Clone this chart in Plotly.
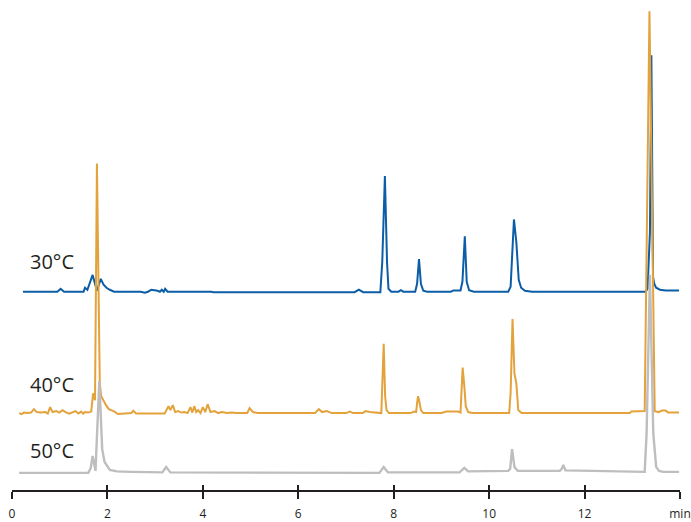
import plotly.graph_objects as go

# ---------------- data ----------------
# retention time (min) and detector signal (arbitrary units) for each run
t30 = [0.23, 0.95, 1.02, 1.09, 1.50, 1.53, 1.58, 1.69, 1.78, 1.86, 1.92, 1.98, 2.05, 2.14,
       2.70, 2.78, 2.85, 2.92, 3.05, 3.10, 3.14, 3.18, 3.21, 3.26, 4.18, 4.22, 7.18, 7.27,
       7.36, 7.72, 7.76, 7.815, 7.86, 7.89, 7.95, 8.10, 8.15, 8.20, 8.45, 8.49, 8.53, 8.57,
       8.62, 8.70, 9.20, 9.25, 9.40, 9.44, 9.49, 9.53, 9.58, 9.68, 10.40, 10.45, 10.52,
       10.57, 10.62, 10.67, 10.75, 10.90, 13.28, 13.32, 13.37, 13.40, 13.435, 13.46, 13.50,
       13.58, 13.70, 13.98]
s30 = [0, 0, 3, 0, 0, 4, 2, 17, 1, 13, 7, 4, 2, 0,
       0, -1, 0, 2, 1, 0, 2, 0, 3, 0, 0, -0.5, -0.5, 2,
       -0.5, -0.5, 30, 117, 30, 3, 0, 0, 1.5, 0, 0, 8, 33, 8,
       1, 0, 0, 1.3, 1.3, 10, 56, 10, 1.5, 0, 0, 5, 73,
       50, 12, 4, 1, 0, 0, 3, 60, 239, 15, 8, 4,
       2, 1.3, 1.3]

t40 = [0.15, 0.20, 0.25, 0.32, 0.40, 0.46, 0.52, 0.60, 0.70, 0.75, 0.80, 0.85, 0.93, 0.99,
       1.06, 1.12, 1.20, 1.27, 1.33, 1.39, 1.45, 1.49, 1.53, 1.60, 1.66, 1.70, 1.74, 1.78,
       1.84, 1.87, 1.91, 1.97, 2.03, 2.08, 2.15, 2.22, 2.30, 2.50, 2.54, 2.60, 3.20, 3.28,
       3.32, 3.37, 3.42, 3.48, 3.55, 3.62, 3.68, 3.74, 3.78, 3.82, 3.86, 3.90, 3.95, 4.00,
       4.05, 4.10, 4.16, 4.25, 4.32, 4.40, 4.50, 4.60, 4.70, 4.93, 4.98, 5.05, 5.15, 6.35,
       6.43, 6.50, 6.60, 6.70, 7.00, 7.08, 7.15, 7.35, 7.41, 7.50, 7.74, 7.77, 7.79, 7.82,
       7.85, 7.90, 8.35, 8.43, 8.47, 8.49, 8.51, 8.54, 8.57, 8.62, 9.00, 9.10, 9.35, 9.40,
       9.42, 9.445, 9.48, 9.51, 9.56, 9.65, 10.42, 10.45, 10.49, 10.53, 10.57, 10.61, 10.68,
       12.95, 12.98, 13.24, 13.26, 13.36, 13.47, 13.55, 13.62, 13.70, 13.75, 13.98]
s40 = [0, -1, 0.5, 0, 0.5, 4, 1, 0.5, 1, -0.5, 6, 1, 2, 0.5,
       3, 1, -0.5, 1, 2, -0.5, 1.5, -0.5, 1, 0.5, 1.5, 20, 13, 252,
       30, 17, 13, 8, 4, 3, 1.5, -1, -0.5, 0, 2.3, -0.5, -0.5, 7,
       3, 8, 1, 2, 0.5, 1, 0, 6, 0.5, 7, 1, 3, 0, 6,
       1, 9, 1, 2, 0, 1, 0, 0.5, 0, 0, 5, 1, 0, 0,
       4, 1, 2, 0, 0, 1.5, 0, 0, 2, 1, 0, 40, 70, 17,
       3, 0, 0, 1.5, 1, 10, 17, 11, 3, 0, 0, 1.5, 1.5, 0.5,
       20, 46, 27, 7, 1, 0, 0, 20, 95, 40, 30, 3, 0,
       0, 1.7, 1.7, 2, 406, 2, 1, 2.5, 2.5, 0.5, 0.5]

t50 = [0.15, 1.60, 1.65, 1.69, 1.75, 1.83, 1.89, 1.94, 2.05, 2.20, 2.50, 3.00, 3.15, 3.23,
       3.32, 7.70, 7.79, 7.88, 9.38, 9.48, 9.56, 10.40, 10.44, 10.48, 10.53, 10.60, 11.48,
       11.52, 11.555, 11.60, 13.26, 13.30, 13.37, 13.44, 13.50, 13.56, 13.65, 13.98]
s50 = [0, 0, 5, 17, 2, 93, 24, 11, 3, 1.5, 1, 0.5, 0.5, 6,
       0.5, 0, 6, 0.5, 0.5, 5, 1.5, 2, 4, 24, 6, 2, 2,
       4, 8, 2.5, 1, 40, 200, 40, 6, 2, 1, 1]

labels = ["30°C", "40°C", "50°C"]
offsets = [200.3, 77.7, 17.3]          # vertical stacking offset of each trace
colors = ["#0B5DA7", "#E3A23B", "#BEBEC0"]

tick_vals = [0, 2, 4, 6, 8, 10, 12, 14]
tick_text = ["0", "2", "4", "6", "8", "10", "12", "min"]

# ---------------- figure ----------------
series = [(t30, s30), (t40, s40), (t50, s50)]
fig = go.Figure()
widths = [2, 2, 2.4]
# draw order: blue, orange, gray on top
for i in [0, 1, 2]:
    tx, sy = series[i]
    fig.add_trace(go.Scatter(
        x=tx, y=[v + offsets[i] for v in sy], mode="lines",
        line=dict(color=colors[i], width=widths[i]),
        hoverinfo="skip", showlegend=False))

# dummy trace to register the overlay axis (inside ticks)
fig.add_trace(go.Scatter(x=[None], y=[None], xaxis="x2", showlegend=False, hoverinfo="skip"))

label_y = [231, 107, 39.5]
for i, lab in enumerate(labels):
    fig.add_annotation(x=0.33, y=label_y[i], text=lab, showarrow=False,
                       xanchor="left", yanchor="middle",
                       font=dict(family="Open Sans", size=20, color="#231F20"))

axis_color = "#231F20"
fig.update_layout(
    width=691, height=522,
    margin=dict(l=12, r=9, t=0, b=27),
    paper_bgcolor="white", plot_bgcolor="white",
    xaxis=dict(range=[0, 14], tickvals=tick_vals, ticktext=tick_text,
               ticks="outside", ticklen=7, tickwidth=1.6, tickcolor=axis_color,
               showline=True, linecolor=axis_color, linewidth=1.6,
               showgrid=False, zeroline=False, ticklabelstandoff=5,
               ticklabeloverflow="allow",
               tickfont=dict(family="Open Sans", size=12, color=axis_color)),
    xaxis2=dict(range=[0, 14], overlaying="x", anchor="y", side="bottom",
                tickvals=tick_vals, ticks="inside", ticklen=5, tickwidth=1.6,
                tickcolor=axis_color, showticklabels=False, showline=False,
                showgrid=False, zeroline=False),
    yaxis=dict(range=[0, 495], visible=False, showgrid=False, zeroline=False),
)

fig.write_html("out.html", config={"displayModeBar": False},
               post_script="document.body.style.margin='0';document.body.style.overflow='hidden';")
